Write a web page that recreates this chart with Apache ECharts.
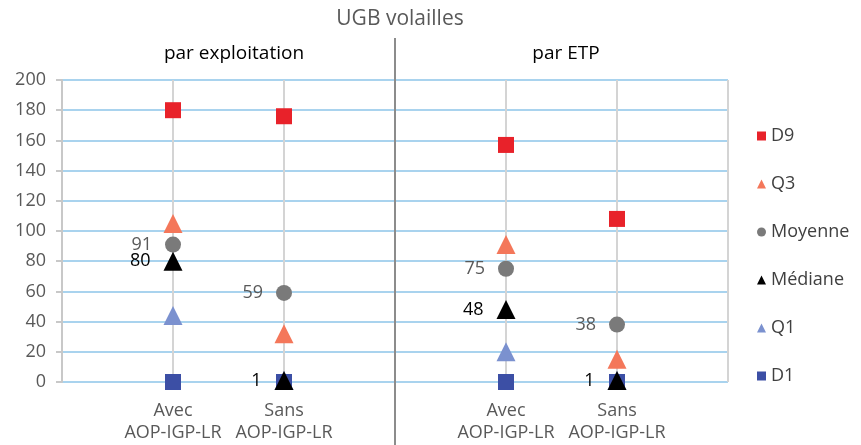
<!DOCTYPE html>
<html>
<head>
<meta charset="utf-8">
<script src="https://cdn.jsdelivr.net/npm/echarts@6/dist/echarts.min.js"></script>
<style>
  html, body { margin: 0; padding: 0; background: #fff; }
  #main { width: 861px; height: 445px; }
</style>
</head>
<body>
<div id="main"></div>
<script>
// catégories (les vides servent d'espacement entre les deux blocs)
var categories = ["", "Avec\nAOP-IGP-LR", "Sans\nAOP-IGP-LR", "", "Avec\nAOP-IGP-LR", "Sans\nAOP-IGP-LR", ""];
var d9 = [null, 180, 176, null, 157, 108, null];
var q3 = [null, 105, 32, null, 91, 15, null];
var moyenne = [null, 91, 59, null, 75, 38, null];
var mediane = [null, 80, 1, null, 48, 1, null];
var q1 = [null, 44, 1, null, 20, 1, null];
var d1 = [null, 0, 0, null, 0, 0, null];
var yTicks = [0, 20, 40, 60, 80, 100, 120, 140, 160, 180, 200];

var font = "'Open Sans', 'Noto Sans', sans-serif";
var myChart = echarts.init(document.getElementById("main"));

function serie(name, data, symbol, size, color, z, label) {
  return {
    name: name,
    type: "scatter",
    data: data,
    symbol: symbol,
    symbolSize: size,
    z: z,
    itemStyle: { color: color, opacity: 1 },
    label: label || { show: false }
  };
}

function lbl(color) {
  return {
    show: true,
    position: "left",
    distance: 13,
    color: color,
    fontSize: 18,
    fontFamily: font
  };
}

myChart.setOption({
  animation: false,
  textStyle: { fontFamily: font },
  title: [
    { text: "UGB volailles", left: 395, top: 4, textAlign: "center",
      textStyle: { fontSize: 21, fontWeight: "normal", color: "#595959", fontFamily: font } },
    { text: "par exploitation", left: 229, top: 39, textAlign: "center",
      textStyle: { fontSize: 19, fontWeight: "normal", color: "#000", fontFamily: font } },
    { text: "par ETP", left: 561, top: 39, textAlign: "center",
      textStyle: { fontSize: 19, fontWeight: "normal", color: "#000", fontFamily: font } }
  ],
  legend: {
    orient: "vertical",
    left: 752,
    top: 122,
    itemGap: 30,
    itemWidth: 9,
    itemHeight: 9,
    textStyle: { fontSize: 18, color: "#404040", fontFamily: font },
    data: [
      { name: "D9", icon: "rect" },
      { name: "Q3", icon: "triangle" },
      { name: "Moyenne", icon: "circle" },
      { name: "Médiane", icon: "triangle" },
      { name: "Q1", icon: "triangle" },
      { name: "D1", icon: "rect" }
    ]
  },
  grid: { left: 62, right: 133, top: 80, bottom: 63 },
  xAxis: {
    type: "category",
    data: categories,
    boundaryGap: false,
    axisLine: { show: false },
    axisTick: { show: false },
    axisLabel: { color: "#595959", fontSize: 18, lineHeight: 22, margin: 18, interval: 0, fontFamily: font },
    splitLine: { show: true, lineStyle: { color: "#d4d4d4", width: 2 } }
  },
  yAxis: {
    type: "value",
    min: yTicks[0],
    max: yTicks[yTicks.length - 1],
    interval: 20,
    axisLine: { show: true, lineStyle: { color: "#c8c8c8", width: 2 } },
    axisTick: { show: true, length: 6, lineStyle: { color: "#c8c8c8", width: 2 } },
    axisLabel: { color: "#595959", fontSize: 18, margin: 16, fontFamily: font },
    splitLine: { lineStyle: { color: "#a9d3ee", width: 2 } }
  },
  graphic: [
    { type: "line", shape: { x1: 395, y1: 38, x2: 395, y2: 445 },
      style: { stroke: "#8c8c8c", lineWidth: 2 }, z: 1 }
  ],
  series: [
    serie("D9", d9, "rect", 16, "#e8222a", 3),
    serie("Q3", q3, "triangle", 19, "#f4775a", 3),
    serie("Moyenne", moyenne, "circle", 16, "#7a7a7a", 3, lbl("#595959")),
    serie("Médiane", mediane, "triangle", 19, "#000000", 6, lbl("#000000")),
    serie("Q1", q1, "triangle", 19, "#7b91cf", 4),
    serie("D1", d1, "rect", 16, "#3c4fa5", 5)
  ]
});
</script>
</body>
</html>
